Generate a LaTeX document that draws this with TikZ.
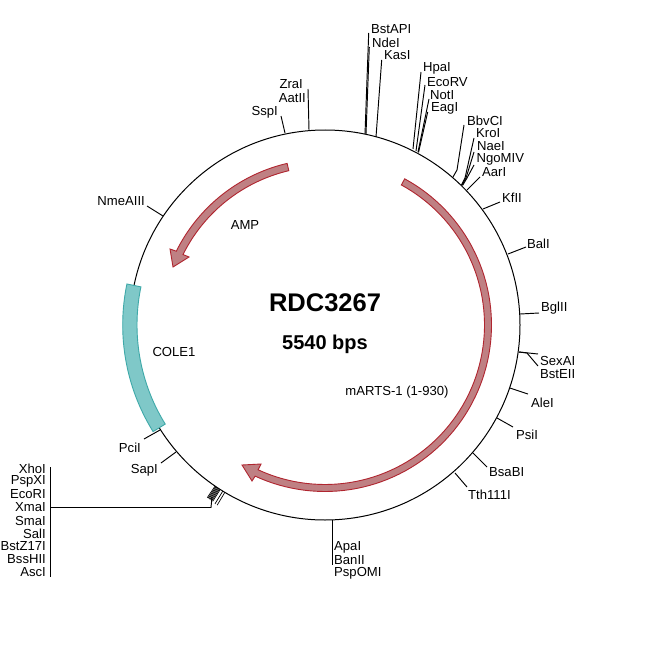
\documentclass[tikz,border=0pt]{standalone}
\usepackage{fontspec}
\setmainfont{Liberation Sans}
\definecolor{redfill}{HTML}{BF8083}
\definecolor{redline}{HTML}{B0252F}
\definecolor{tealfill}{HTML}{7FC8C8}
\definecolor{tealline}{HTML}{3FA9A9}
\tikzset{
  lab/.style={inner sep=0pt,font=\fontsize{13.1}{13}\selectfont,text=black,yshift=-0.5pt},
  conn/.style={draw=black,line width=0.95pt},
  ringline/.style={circle,draw=black,line width=1pt,minimum size=390pt,inner sep=0pt},
  redfeat/.style={fill=redfill,draw=redline,line width=0.9pt,line join=miter},
  tealfeat/.style={fill=tealfill,draw=tealline,line width=0.9pt},
}
% id, base, end, label anchor, label position, text
\newcommand{\rsite}[6]{%
  \node[lab,anchor=#4] (n#1) at (#5) {#6};
  \coordinate (b#1) at (#2);
  \coordinate (e#1) at (#3);
  \draw[conn] (b#1) -- (e#1);
}
% as \rsite, with an elbow
\newcommand{\esite}[7]{%
  \node[lab,anchor=#5] (n#1) at (#6) {#7};
  \coordinate (b#1) at (#2);
  \coordinate (k#1) at (#3);
  \coordinate (e#1) at (#4);
  \draw[conn] (b#1) -- (k#1) -- (e#1);
}
\begin{document}
\begin{tikzpicture}[x=1pt,y=-1pt]
\useasboundingbox (0,0) rectangle (650,650);
\fill[white] (0,0) rectangle (650,650);
\node[ringline] (ring) at (325,325) {};

% features
\draw[redfeat] plot[domain=-61.4:114.8,samples=80] ({325+166.5*cos(\x)},{325+166.5*sin(\x)})
  -- (252,481) -- (242,465) -- (261,464)
  -- plot[domain=114.8:-61.4,samples=80] ({325+159.5*cos(\x)},{325+159.5*sin(\x)}) -- cycle;
\draw[redfeat] plot[domain=256.8:206.4,samples=40] ({325+166*cos(\x)},{325+166*sin(\x)})
  -- (170,249) -- (173,267) -- (189,257)
  -- plot[domain=206.4:256.8,samples=40] ({325+158.5*cos(\x)},{325+158.5*sin(\x)}) -- cycle;
\draw[tealfeat] plot[domain=191.7:148.2,samples=40] ({325+202.3*cos(\x)},{325+202.3*sin(\x)})
  -- plot[domain=148.2:191.7,samples=40] ({325+188*cos(\x)},{325+188*sin(\x)}) -- cycle;

% titles
\node[inner sep=0pt,font=\fontsize{25.5}{28}\selectfont\bfseries] (title) at (325,303) {RDC3267};
\node[inner sep=0pt,font=\fontsize{20}{22}\selectfont\bfseries] (size) at (325,344) {5540 bps};
\node[lab] (amp) at (245,224) {AMP};
\node[lab] (cole) at (174,351) {COLE1};
\node[lab] (marts) at (397,392) {mARTS-1 (1-930)};

% upper right sites
\rsite{BstAPI}{365,134}{368.7,33}{west}{371,29}{BstAPI}
\rsite{NdeI}{366,134}{369.3,47}{west}{372,42}{NdeI}
\rsite{KasI}{376,137}{381.7,60}{west}{384,55}{KasI}
\rsite{HpaI}{413,149}{421,72}{west}{423,68}{HpaI}
\rsite{EcoRV}{416,151}{425,85}{west}{427,82}{EcoRV}
\rsite{NotI}{418,152}{429,99}{west}{430,95}{NotI}
\rsite{EagI}{418.5,152.5}{427.7,112}{west}{431,108}{EagI}
\esite{BbvCI}{453,177}{457,170}{464,125}{west}{467,120}{BbvCI}
\esite{KroI}{461.5,185}{465,178}{474,138}{west}{476,133}{KroI}
\esite{NaeI}{462,185}{466,178}{474,152}{west}{477,146}{NaeI}
\esite{NgoMIV}{462.5,185.5}{467,178}{474,165}{west}{476.5,159}{NgoMIV}
\rsite{AarI}{467,190}{480,177}{west}{482,172}{AarI}
\rsite{KfII}{483,209}{500,202}{west}{502,197}{KfII}
\rsite{BalI}{508,254}{526,247}{west}{527,243}{BalI}
\rsite{BglII}{520,314}{539,313}{west}{541,308}{BglII}
\rsite{SexAI}{519,352}{538,354}{west}{540,360}{SexAI}
\esite{BstEII}{519,352}{527,353}{538,366}{west}{540,374}{BstEII}
\rsite{AleI}{510,388}{528,394}{west}{531,402}{AleI}
\rsite{PsiI}{497,418}{513,427}{west}{516,434}{PsiI}
\rsite{BsaBI}{473,453}{487,467}{west}{489,472}{BsaBI}
\rsite{Tth}{455,473}{467,487}{west}{468,494}{Tth111I}

% bottom
\rsite{ApaI}{332,520}{332,565}{west}{334,547}{ApaI}
\node[lab,anchor=west] (nBanII) at (334,560) {BanII};
\node[lab,anchor=west] (nPspOMI) at (334,573) {PspOMI};

% left sites
\rsite{PciI}{160,430}{144,439}{east}{141,447}{PciI}
\rsite{SapI}{176,452}{161,463}{east}{158,470}{SapI}
\rsite{NmeAIII}{163,216}{147,206}{east}{145,201}{NmeAIII}
\rsite{SspI}{285,133}{281,116}{east}{278,112}{SspI}
\rsite{AatII}{309,130}{308,89}{east}{306,98}{AatII}
\node[lab,anchor=east] (nZraI) at (303,84) {ZraI};

% multiple cloning site
\coordinate (mcsA) at (212,497);
\coordinate (mcsB) at (211,507.5);
\coordinate (mcsC) at (50.5,507.5);
\coordinate (mcsTop) at (50.5,467);
\coordinate (mcsBot) at (50.5,577);
\foreach \a in {122.5,122.8,123.1,123.4,123.7,124.0,124.3}{
  \coordinate (mb) at ({325+195*cos(\a)},{325+195*sin(\a)});
  \coordinate (me) at ({325+209*cos(\a)},{325+209*sin(\a)});
  \draw[conn,line width=0.7pt] (mb) -- (me);
}
\foreach \a in {120.9,121.6}{
  \coordinate (mb) at ({325+195*cos(\a)},{325+195*sin(\a)});
  \coordinate (me) at ({325+210*cos(\a)},{325+210*sin(\a)});
  \draw[conn,line width=0.7pt] (mb) -- (me);
}
\draw[conn] (mcsA) -- (mcsB) -- (mcsC);
\draw[conn] (mcsTop) -- (mcsBot);
\node[lab,anchor=east] (nXhoI) at (46,468) {XhoI};
\node[lab,anchor=east] (nPspXI) at (46,481) {PspXI};
\node[lab,anchor=east] (nEcoRI) at (46,494) {EcoRI};
\node[lab,anchor=east] (nXmaI) at (46,507) {XmaI};
\node[lab,anchor=east] (nSmaI) at (46,520) {SmaI};
\node[lab,anchor=east] (nSalI) at (46,533) {SalI};
\node[lab,anchor=east] (nBstZ) at (46,546) {BstZ17I};
\node[lab,anchor=east] (nBssHII) at (46,559) {BssHII};
\node[lab,anchor=east] (nAscI) at (46,572) {AscI};
\end{tikzpicture}
\end{document}
